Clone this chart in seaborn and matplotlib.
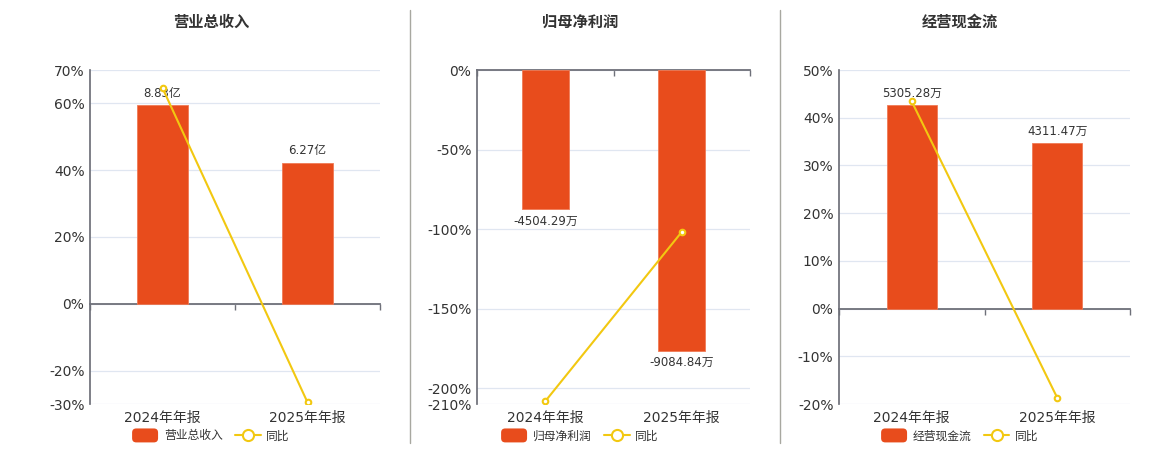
import numpy as np
import pandas as pd
import matplotlib
matplotlib.use("Agg")
import matplotlib.pyplot as plt
from matplotlib.lines import Line2D
from matplotlib.patches import FancyBboxPatch
from matplotlib.legend_handler import HandlerPatch
import seaborn as sns

sns.set_theme(style="white")
plt.rcParams['font.family'] = ['DejaVu Sans', 'Noto Sans CJK SC']
plt.rcParams['axes.unicode_minus'] = False

# data
periods = ["2024年年报", "2025年年报"]
titles = ["营业总收入", "归母净利润", "经营现金流"]

revenue = [8.83, 6.27]            # 亿
revenue_labels = ["8.83亿", "6.27亿"]
revenue_yoy = [64.6, -29.5]       # %

profit = [-4504.29, -9084.84]     # 万
profit_labels = ["-4504.29万", "-9084.84万"]
profit_yoy = [-208.3, -101.8]

cashflow = [5305.28, 4311.47]     # 万
cashflow_labels = ["5305.28万", "4311.47万"]
cashflow_yoy = [43.4, -18.7]

yoy_ticks = [
    [70, 60, 40, 20, 0, -20, -30],
    [0, -50, -100, -150, -200, -210],
    [50, 40, 30, 20, 10, 0, -10, -20],
]
# where the first bar sits on the percent scale (hidden bar axis is matched to it)
bar_ref_pct = [59.5, -87.5, 42.6]

values = [revenue, profit, cashflow]
labels = [revenue_labels, profit_labels, cashflow_labels]
yoys = [revenue_yoy, profit_yoy, cashflow_yoy]

BAR = "#E84C1C"
LINE = "#F2C811"
AXIS = "#6E7079"
GRID = "#E0E6F1"
TXT = "#333333"

fig = plt.figure(figsize=(11.6, 4.5), dpi=100)

# axes rectangles (fig fractions) and panel centres
rects = [
    [90 / 1160, 1 - 404 / 450, 290 / 1160, 334 / 450],
    [477 / 1160, 1 - 404 / 450, 273 / 1160, 334 / 450],
    [839 / 1160, 1 - 404 / 450, 291 / 1160, 334 / 450],
]
centres = [211 / 1160, 580 / 1160, 960 / 1160]


class RoundHandler(HandlerPatch):
    def create_artists(self, legend, orig_handle, xdescent, ydescent,
                       width, height, fontsize, trans):
        p = FancyBboxPatch((-xdescent, -ydescent - 1.5), width, height + 3,
                           boxstyle="round,pad=0,rounding_size=3",
                           facecolor=BAR, edgecolor="none", transform=trans)
        return [p]


for i in range(3):
    ticks = yoy_ticks[i]
    lo, hi = min(ticks), max(ticks)
    df = pd.DataFrame({"period": periods, "value": values[i], "yoy": yoys[i]})

    # base axis: percent scale, grid, left spine, zero line
    ax = fig.add_axes(rects[i])
    ax.set_ylim(lo, hi)
    ax.set_yticks(ticks)
    ax.set_yticklabels([f"{t}%" for t in ticks], fontsize=10, color=TXT)
    ax.grid(axis="y", color=GRID, linewidth=0.9)
    ax.set_axisbelow(True)
    for s in ["top", "right"]:
        ax.spines[s].set_visible(False)
    ax.spines["left"].set_color(AXIS)
    ax.spines["bottom"].set_color(AXIS)
    ax.spines["bottom"].set_linewidth(1.3)
    ax.spines["bottom"].set_position(("data", 0))
    ax.tick_params(axis="y", length=0, pad=4)

    # bar axis (hidden scale, zero aligned with 0%)
    axb = ax.twinx()
    sns.barplot(data=df, x="period", y="value", ax=axb, color=BAR,
                width=0.345, saturation=1, edgecolor="#F07A55", linewidth=0.6)
    v0 = values[i][0]
    scale = v0 / bar_ref_pct[i]
    axb.set_ylim(lo * scale, hi * scale)
    axb.set_yticks([])
    axb.set_ylabel("")
    axb.set_xlabel("")
    for s in axb.spines.values():
        s.set_visible(False)
    for j, (v, lab) in enumerate(zip(values[i], labels[i])):
        va = "bottom" if v > 0 else "top"
        off = 4 if v > 0 else -4
        axb.annotate(lab, (j, v), xytext=(0, off), textcoords="offset points",
                     ha="center", va=va, fontsize=8.5, color=TXT)

    # line axis, same percent scale
    axl = ax.twinx()
    sns.pointplot(data=df, x="period", y="yoy", ax=axl, color=LINE,
                  markers="o", markersize=4, linewidth=1.5,
                  markerfacecolor="white", markeredgewidth=1.5)
    axl.set_ylim(lo, hi)
    axl.set_yticks([])
    axl.set_ylabel("")
    axl.set_xlabel("")
    for s in axl.spines.values():
        s.set_visible(False)

    ax.set_xlim(-0.5, 1.5)
    ax.set_xticks([0, 1])
    ax.set_xticklabels(periods)
    ax.set_xticks([-0.5, 0.5, 1.5], minor=True)
    ax.tick_params(axis="x", which="major", length=0, labelbottom=False)
    ax.tick_params(axis="x", which="minor", bottom=True, length=4, width=1,
                   color=AXIS, direction="out")
    axb.tick_params(axis="x", which="both", length=0, labelbottom=False)
    axl.xaxis.set_visible(True)
    axl.tick_params(axis="x", which="both", length=0, labelbottom=True,
                    labelsize=10, labelcolor=TXT, pad=5)
    ax.set_xlabel("")
    ax.set_ylabel("")

    fig.text(centres[i], 1 - 22 / 450, titles[i], ha="center", va="center",
             fontsize=11, fontweight="bold", color=TXT)

    handles = [
        FancyBboxPatch((0, 0), 1, 1, facecolor=BAR, edgecolor="none"),
        Line2D([], [], color=LINE, linewidth=1.5, marker="o", markersize=8,
               markerfacecolor="white", markeredgewidth=1.5),
    ]
    fig.legend(handles, [titles[i], "同比"], loc="center",
               bbox_to_anchor=(centres[i], 1 - 436 / 450), ncol=2,
               frameon=False, fontsize=8.5, handlelength=2.2,
               handleheight=0.9, columnspacing=1.0, handletextpad=0.5,
               labelcolor=TXT, handler_map={FancyBboxPatch: RoundHandler()})

# panel dividers
for x in [410 / 1160, 780 / 1160]:
    fig.add_artist(Line2D([x, x], [1 - 443 / 450, 1 - 10 / 450],
                          transform=fig.transFigure, color="#A8A8A0",
                          linewidth=1))

fig.savefig("out.png", dpi=100)
